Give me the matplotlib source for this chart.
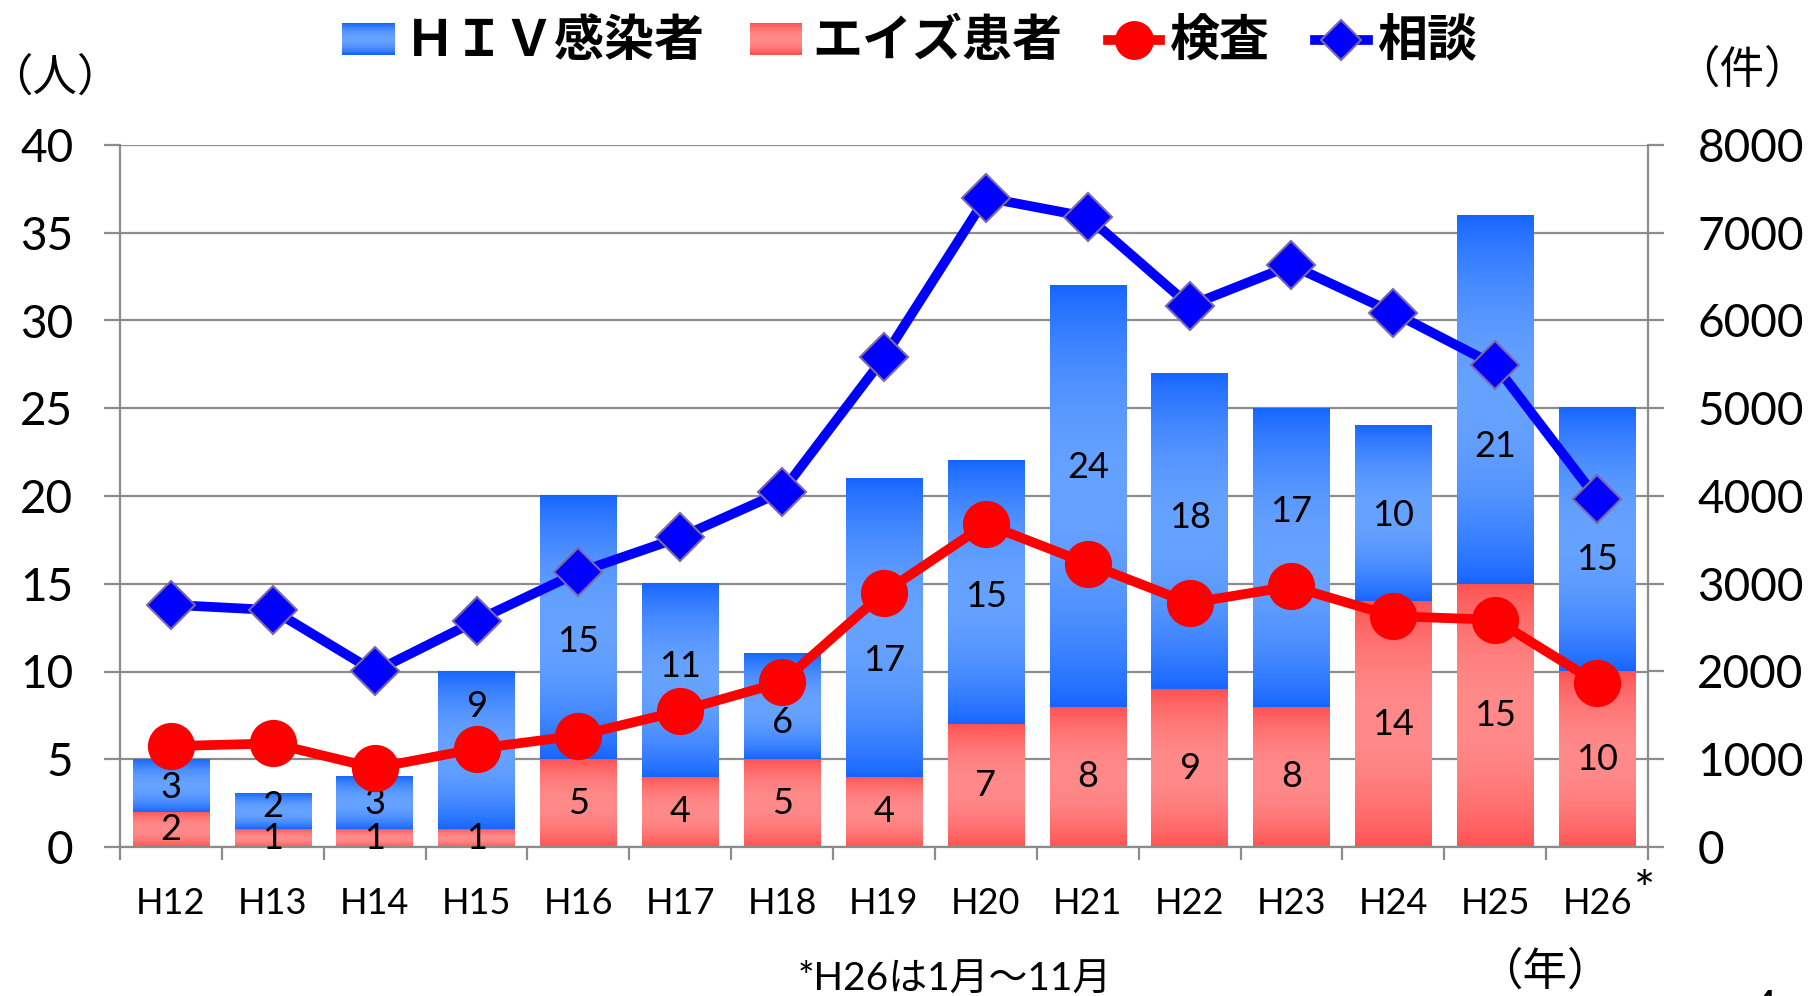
import numpy as np
import matplotlib
matplotlib.use('Agg')
import matplotlib.pyplot as plt
from matplotlib.patches import Rectangle
from matplotlib.lines import Line2D
from matplotlib.legend_handler import HandlerBase
from matplotlib.colors import to_rgb

# ---------------- data ----------------
years = ['H12', 'H13', 'H14', 'H15', 'H16', 'H17', 'H18', 'H19',
         'H20', 'H21', 'H22', 'H23', 'H24', 'H25', 'H26']
aids = [2, 1, 1, 1, 5, 4, 5, 4, 7, 8, 9, 8, 14, 15, 10]          # エイズ患者
hiv = [3, 2, 3, 9, 15, 11, 6, 17, 15, 24, 18, 17, 10, 21, 15]    # HIV感染者
kensa = [1150, 1180, 900, 1120, 1270, 1550, 1880, 2900, 3680,
         3230, 2780, 2970, 2630, 2590, 1870]                      # 検査
soudan = [2760, 2700, 2000, 2580, 3130, 3530, 4050, 5580, 7400,
          7180, 6170, 6630, 6090, 5490, 3970]                     # 相談
legend_labels = ['ＨＩＶ感染者', 'エイズ患者', '検査', '相談']

# ---------------- layout / style ----------------
# vertical nudges of the HIV data labels (left-axis units), as placed in the original
hiv_label_shift = [-0.1, 0.3, 0.0, 2.5, -0.8, 0.8, -0.9, -1.9, -0.2,
                   1.6, 0.8, 2.6, -0.1, -2.7, -1.1]

GRAY = '#8c8c8c'
BLUE_DARK, BLUE_LIGHT = '#1464ff', '#66a2ff'
RED_DARK, RED_LIGHT = '#ff5050', '#ff8a8a'
NUM_FONT = 'Lato'
JP_FONT = 'Noto Sans CJK JP'

W, H = 1811, 996
fig = plt.figure(figsize=(W / 100, H / 100), dpi=100)
ax = fig.add_axes([120 / W, 1 - 847 / H, (1648 - 120) / W, (847 - 145) / H])
ax2 = ax.twinx()


def grad_rgba(dark, light, n=256):
    t = np.linspace(0, 1, n)
    w = np.sin(np.pi * t) ** 0.8
    d = np.array(to_rgb(dark))
    l = np.array(to_rgb(light))
    cols = d[None, :] * (1 - w[:, None]) + l[None, :] * w[:, None]
    return cols[:, None, :]


x = np.arange(len(years))
bw = 0.75
bars_aids = ax.bar(x, aids, width=bw, facecolor='none', edgecolor='none', zorder=2)
bars_hiv = ax.bar(x, hiv, width=bw, bottom=aids, facecolor='none', edgecolor='none', zorder=2)

blue_img = grad_rgba(BLUE_DARK, BLUE_LIGHT)
red_img = grad_rgba(RED_DARK, RED_LIGHT)
for cont, img in ((bars_aids, red_img), (bars_hiv, blue_img)):
    for r in cont.patches:
        x0, y0 = r.get_x(), r.get_y()
        ax.imshow(img, extent=(x0, x0 + r.get_width(), y0, y0 + r.get_height()),
                  aspect='auto', origin='lower', interpolation='bilinear', zorder=2)

ax.bar_label(bars_aids, labels=[str(v) for v in aids], label_type='center',
             fontsize=26, family=NUM_FONT, zorder=5)
for r, v, dy in zip(bars_hiv.patches, hiv, hiv_label_shift):
    ax.text(r.get_x() + r.get_width() / 2, r.get_y() + r.get_height() / 2 + dy, str(v),
            ha='center', va='center', fontsize=26, family=NUM_FONT, zorder=5)

ax.set_xlim(-0.5, len(years) - 0.5)
ax.set_ylim(0, 40)
ax.set_yticks(np.arange(0, 41, 5))
ax.set_axisbelow(True)
ax.yaxis.grid(True, color=GRAY, lw=1.6)
ax.set_xticks(np.arange(-0.5, len(years), 1))
ax.set_xticklabels([])
ax.set_xticks(x, minor=True)
ax.set_xticklabels(years, minor=True)
ax.tick_params(axis='x', which='major', direction='out', length=9.5, width=1.6, color=GRAY)
ax.tick_params(axis='x', which='minor', length=0, pad=29, labelsize=26)
ax.tick_params(axis='y', direction='out', length=11.5, width=1.6, color=GRAY,
               labelsize=33, pad=22)
for lab in ax.get_xticklabels(minor=True) + ax.get_yticklabels():
    lab.set_family(NUM_FONT)
ax.spines['top'].set_visible(False)
for s in ('left', 'right', 'bottom'):
    ax.spines[s].set_color(GRAY)
    ax.spines[s].set_linewidth(1.6)

# lines on secondary axis
ax2.plot(x, kensa, color='#ff0000', lw=7, marker='o', ms=33,
         mfc='#ff0000', mec='#ff0000', zorder=3)
ax2.plot(x, soudan, color='#0000ff', lw=7, marker='D', ms=24,
         mfc='#0000ff', mec='#7a68a8', mew=1.5, zorder=4)
ax2.set_ylim(0, 8000)
ax2.set_yticks(np.arange(0, 8001, 1000))
ax2.tick_params(axis='y', direction='out', length=11.5, width=1.6, color=GRAY,
                labelsize=33, pad=24)
for lab in ax2.get_yticklabels():
    lab.set_family(NUM_FONT)
for s in ax2.spines.values():
    s.set_visible(False)


# ---------------- legend ----------------
class GradHandler(HandlerBase):
    def __init__(self, dark, light):
        super().__init__()
        self.dark, self.light = dark, light

    def create_artists(self, legend, orig_handle, xdescent, ydescent,
                       width, height, fontsize, trans):
        n = 24
        cols = grad_rgba(self.dark, self.light, n)[:, 0, :]
        arts = []
        for i in range(n):
            arts.append(Rectangle((-xdescent, -ydescent + i * height / n), width,
                                  height / n * 1.05, facecolor=cols[i],
                                  edgecolor='none', transform=trans))
        return arts


h_hiv = Rectangle((0, 0), 1, 1, label=legend_labels[0])
h_aids = Rectangle((0, 0), 1, 1, label=legend_labels[1])
h_kensa = Line2D([], [], color='#ff0000', lw=7, marker='o', ms=27,
                 mfc='#ff0000', mec='#ff0000')
h_soudan = Line2D([], [], color='#0000ff', lw=7, marker='D', ms=20,
                  mfc='#0000ff', mec='#7a68a8', mew=1.5)
fig.legend([h_hiv, h_aids, h_kensa, h_soudan], legend_labels,
           handler_map={h_hiv: GradHandler(BLUE_DARK, BLUE_LIGHT),
                        h_aids: GradHandler(RED_DARK, RED_LIGHT)},
           loc='center', bbox_to_anchor=(910 / W, 1 - 42 / H), ncol=4,
           frameon=False, handlelength=1.05, handleheight=0.6, handletextpad=0.2,
           columnspacing=0.9, borderpad=0, borderaxespad=0, numpoints=1,
           prop={'family': JP_FONT, 'size': 36, 'weight': 'bold'})

# ---------------- extra texts ----------------
fig.text(55 / W, 1 - 78 / H, '（人）', ha='center', va='center', fontsize=32, family=JP_FONT)
fig.text(1742 / W, 1 - 70 / H, '（件）', ha='center', va='center', fontsize=32, family=JP_FONT)
fig.text(1545 / W, 1 - 972 / H, '（年）', ha='center', va='center', fontsize=32, family=JP_FONT)
fig.text(955 / W, 1 - 980 / H, '*H26は1月～11月', ha='center', va='center', fontsize=28,
         family=[NUM_FONT, JP_FONT])
fig.text(1645 / W, 1 - 893 / H, '*', ha='center', va='center', fontsize=36, family=NUM_FONT)
fig.text(1764 / W, 1 - 989 / H, '4', ha='center', va='top', fontsize=32, family=NUM_FONT)

fig.savefig('out.png', dpi=100)
